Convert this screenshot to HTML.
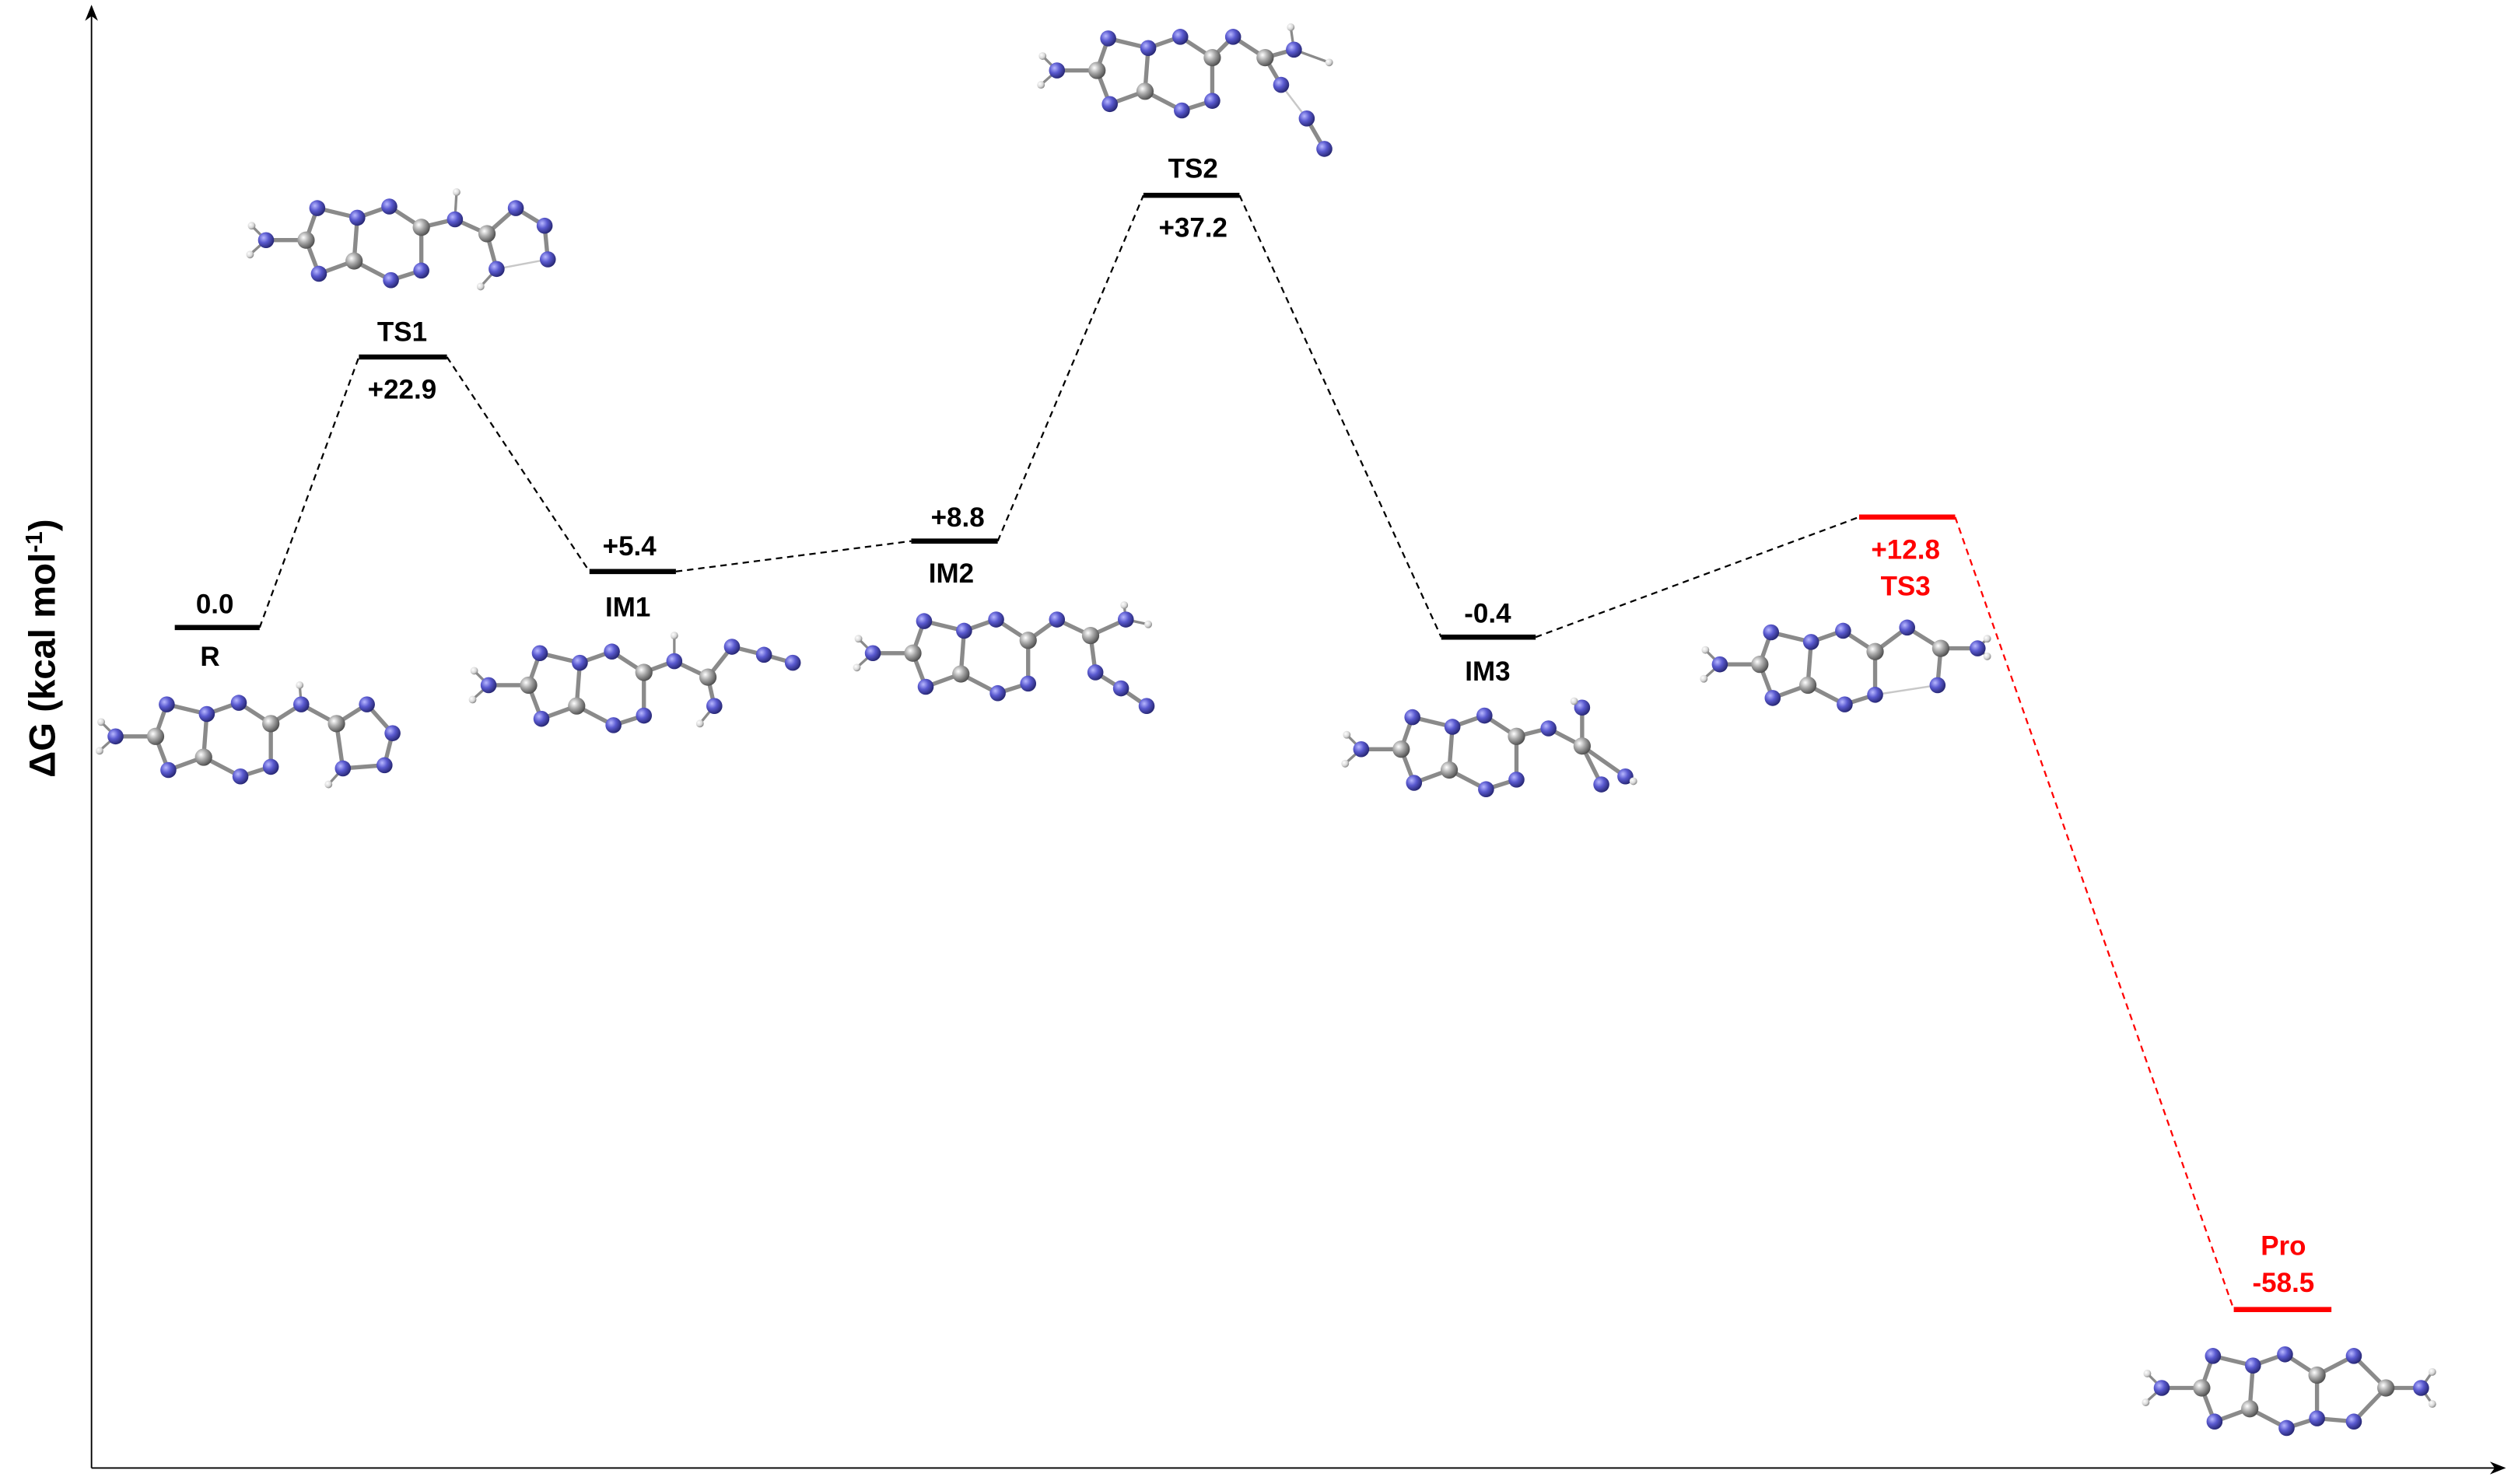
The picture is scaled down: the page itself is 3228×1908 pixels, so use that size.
<!DOCTYPE html>
<html><head><meta charset="utf-8"><style>
html,body{margin:0;padding:0;background:#fff}
svg{display:block}
text{font-family:"Liberation Sans",Arial,sans-serif;font-weight:bold}
</style></head><body>
<svg id="s" xmlns="http://www.w3.org/2000/svg" width="3228" height="1908" viewBox="0 0 1568 927">
<defs>
<radialGradient id="gN" cx="35%" cy="35%" r="70%"><stop offset="0" stop-color="#b8b8ff"/><stop offset="0.45" stop-color="#5a5ad0"/><stop offset="1" stop-color="#24246e"/></radialGradient>
<radialGradient id="gC" cx="35%" cy="35%" r="70%"><stop offset="0" stop-color="#ffffff"/><stop offset="0.45" stop-color="#a8a8a8"/><stop offset="1" stop-color="#4a4a4a"/></radialGradient>
<radialGradient id="gH" cx="35%" cy="35%" r="70%"><stop offset="0" stop-color="#ffffff"/><stop offset="0.6" stop-color="#d8d8d8"/><stop offset="1" stop-color="#808080"/></radialGradient>
<marker id="ar" markerWidth="10" markerHeight="8" refX="9" refY="4" orient="auto" markerUnits="userSpaceOnUse"><path d="M0,0 L10,4 L0,8 L3,4 Z" fill="#000"/></marker>
</defs>
<line x1="57" y1="917" x2="57" y2="4" stroke="#000" stroke-width="0.9" marker-end="url(#ar)"/>
<line x1="57" y1="917" x2="1564" y2="917" stroke="#000" stroke-width="0.9" marker-end="url(#ar)"/>
<text transform="translate(34,405) rotate(-90)" text-anchor="middle" font-size="23">ΔG (kcal mol<tspan dy="-8" font-size="15">-1</tspan><tspan dy="8">)</tspan></text>
<g fill="none" stroke-width="1.1" stroke-dasharray="4,3">
<path stroke="#000" d="M162,392 L224,223 M279,223 L368,357 M422,357 L569,338 M623,338 L714,122 M774,122 L900,398 M959,398 L1161,323"/>
<path stroke="#f00" d="M1221,323 L1395,818"/>
</g>
<g stroke-width="3.2">
<line x1="109" y1="392" x2="162" y2="392" stroke="#000"/>
<line x1="224" y1="223" x2="279" y2="223" stroke="#000"/>
<line x1="368" y1="357" x2="422" y2="357" stroke="#000"/>
<line x1="569" y1="338" x2="623" y2="338" stroke="#000"/>
<line x1="714" y1="122" x2="774" y2="122" stroke="#000"/>
<line x1="900" y1="398" x2="959" y2="398" stroke="#000"/>
<line x1="1161" y1="323" x2="1221" y2="323" stroke="#f00"/>
<line x1="1395" y1="818" x2="1456" y2="818" stroke="#f00"/>
</g>
<g font-size="17" text-anchor="middle">
<text x="134" y="383">0.0</text><text x="131" y="416">R</text>
<text x="251" y="213">TS1</text><text x="251" y="249">+22.9</text>
<text x="393" y="347">+5.4</text><text x="392" y="385">IM1</text>
<text x="598" y="329">+8.8</text><text x="594" y="364">IM2</text>
<text x="745" y="111">TS2</text><text x="745" y="148">+37.2</text>
<text x="929" y="389">-0.4</text><text x="929" y="425">IM3</text>
<g fill="#f00"><text x="1190" y="349">+12.8</text><text x="1190" y="372">TS3</text>
<text x="1426" y="784">Pro</text><text x="1426" y="807">-58.5</text></g>
</g>
<g id="mols"></g>
</svg>
<script>
var NS="http://www.w3.org/2000/svg",G=document.getElementById("mols");
var core=[["N",0,0],["C",25,0],["N",32,-20],["N",33,21],["N",57,-14],["C",55,13],["N",77,-21],["N",78,25],["C",97,-8],["N",97,19],["H",-9,-9],["H",-10,9]];
var cb=[[0,1],[1,2],[1,3],[2,4],[3,5],[4,5],[4,6],[5,7],[6,8],[8,9],[9,7],[0,10],[0,11]];
function ln(g,A,B,col,w){var l=document.createElementNS(NS,"line");
  l.setAttribute("x1",A[1]);l.setAttribute("y1",A[2]);l.setAttribute("x2",B[1]);l.setAttribute("y2",B[2]);
  l.setAttribute("stroke",col);l.setAttribute("stroke-width",w);g.appendChild(l);}
function mol(ox,oy,flip,ext,eb,weak){
 var at=core.map(function(a){return [a[0],ox+a[1],oy+a[2]*flip]});
 ext.forEach(function(e){at.push([e[0],e[1],e[2]])});
 var b=cb.concat(eb);
 var g=document.createElementNS(NS,"g");
 b.forEach(function(p){var A=at[p[0]],B=at[p[1]]; if(!A||!B)return;
  ln(g,A,B,"#8a8a8a",(A[0]=="H"||B[0]=="H")?1.6:2.6);});
 (weak||[]).forEach(function(p){var A=at[p[0]],B=at[p[1]]; if(!A||!B)return; ln(g,A,B,"#c8c8c8",1.2);});
 at.forEach(function(a){var c=document.createElementNS(NS,"circle");
  c.setAttribute("cx",a[1]);c.setAttribute("cy",a[2]);
  c.setAttribute("r",a[0]=="H"?2.4:(a[0]=="C"?5.4:5));
  c.setAttribute("fill","url(#g"+a[0]+")");g.appendChild(c);});
 G.appendChild(g);
}
mol(72,460,1,[["N",188,440],["H",187,428],["C",210,452],["N",229,440],["N",245,458],["N",240,478],["N",214,480],["H",205,490]],
 [[8,12],[12,13],[12,14],[14,15],[15,16],[16,17],[17,18],[14,18],[18,19]]);
mol(166,150,1,[["N",284,137],["H",285,120],["C",304,146],["N",322,130],["N",340,141],["N",342,162],["N",310,168],["H",300,179]],
 [[8,12],[12,13],[12,14],[14,15],[15,16],[16,17],[14,18],[18,19]],[[17,18]]);
mol(305,428,1,[["N",421,413],["H",421,397],["C",442,423],["N",457,404],["N",477,409],["N",495,414],["N",446,441],["H",437,452]],
 [[8,12],[12,13],[12,14],[14,15],[15,16],[16,17],[14,18],[18,19]]);
mol(545,408,1,[["N",660,387],["C",681,397],["N",703,387],["H",702,378],["H",717,390],["N",684,420],["N",700,430],["N",716,441]],
 [[8,12],[12,13],[13,14],[14,15],[14,16],[13,17],[17,18],[18,19]]);
mol(660,44,1,[["N",770,23],["C",790,36],["N",808,31],["H",806,17],["H",830,39],["N",800,53],["N",816,74],["N",827,93]],
 [[8,12],[12,13],[13,14],[14,15],[14,16],[13,17],[18,19]],[[17,18]]);
mol(850,468,1,[["N",967,455],["C",988,466],["N",988,442],["H",983,438],["N",1015,485],["N",1000,490],["H",1020,488]],
 [[8,12],[12,13],[13,14],[14,15],[13,16],[13,17]]);
mol(1074,415,1,[["N",1191,392],["C",1212,405],["N",1235,405],["H",1241,399],["H",1241,410],["N",1210,428]],
 [[8,12],[12,13],[13,14],[14,15],[14,16],[13,17]],[[9,17]]);
mol(1350,867,1,[["N",1470,847],["N",1470,888],["C",1490,867],["N",1512,867],["H",1519,857],["H",1519,877]],
 [[8,12],[9,13],[12,14],[13,14],[14,15],[15,16],[15,17]]);
</script>
</body></html>
